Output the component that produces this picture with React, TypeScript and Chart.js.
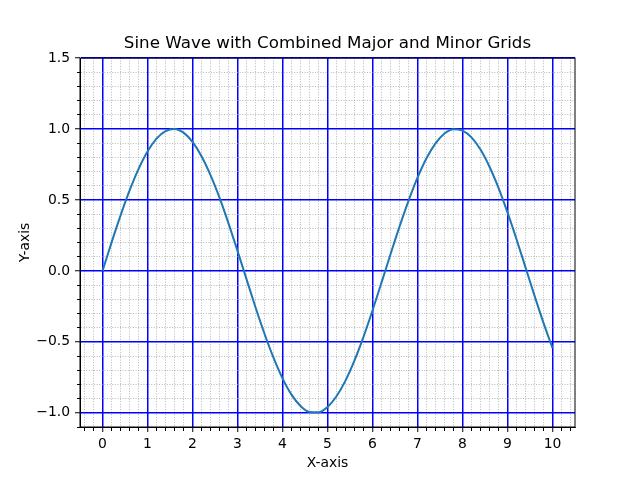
import React, { useEffect, useRef } from "react";
import { Chart, registerables } from "chart.js";

Chart.register(...registerables);

const xValues = [
  0, 0.2, 0.4, 0.6, 0.8, 1, 1.2, 1.4, 1.6, 1.8, 2, 2.2, 2.4, 2.6, 2.8, 3, 3.2, 3.4,
  3.6, 3.8, 4, 4.2, 4.4, 4.6, 4.8, 5, 5.2, 5.4, 5.6, 5.8, 6, 6.2, 6.4, 6.6, 6.8, 7,
  7.2, 7.4, 7.6, 7.8, 8, 8.2, 8.4, 8.6, 8.8, 9, 9.2, 9.4, 9.6, 9.8, 10,
];
const yValues = [
  0, 0.199, 0.389, 0.565, 0.717, 0.841, 0.932, 0.985, 1.0, 0.974, 0.909, 0.808,
  0.675, 0.516, 0.335, 0.141, -0.058, -0.256, -0.443, -0.612, -0.757, -0.872,
  -0.952, -0.994, -0.996, -0.959, -0.883, -0.773, -0.631, -0.465, -0.279, -0.083,
  0.117, 0.312, 0.494, 0.657, 0.794, 0.899, 0.968, 0.999, 0.989, 0.941, 0.855,
  0.734, 0.585, 0.412, 0.223, 0.025, -0.174, -0.366, -0.544,
];

const xMajorTicks = [0, 1, 2, 3, 4, 5, 6, 7, 8, 9, 10];
const yMajorTicks = [-1.0, -0.5, 0.0, 0.5, 1.0, 1.5];

const X_MIN = -0.5;
const X_MAX = 10.5;
const Y_MIN = -1.1;
const Y_MAX = 1.5;
const X_MINOR_STEP = 0.2;
const Y_MINOR_STEP = 0.1;

const FONT = "'DejaVu Sans', sans-serif";
const MAJOR_COLOR = "#0000ff";
const MINOR_COLOR = "#999999";

const minorTicks = (min: number, max: number, step: number) => {
  const out: { value: number }[] = [];
  const first = Math.ceil(min / step - 1e-9);
  const last = Math.floor(max / step + 1e-9);
  for (let i = first; i <= last; i++) {
    out.push({ value: Math.round(i * step * 1000) / 1000 });
  }
  return out;
};

const isMajor = (list: number[], v: number) =>
  list.some((m) => Math.abs(m - v) < 1e-6);

const fmt = (v: number, digits: number) => v.toFixed(digits).replace("-", "\u2212");

// frame around the plot area, like the matplotlib spines
const framePlugin = {
  id: "frame",
  afterDatasetsDraw(chart: Chart) {
    const { ctx, chartArea } = chart;
    ctx.save();
    ctx.strokeStyle = "#000";
    ctx.lineWidth = 1;
    ctx.strokeRect(
      chartArea.left,
      chartArea.top,
      chartArea.right - chartArea.left,
      chartArea.bottom - chartArea.top
    );
    ctx.restore();
  },
};

const SineChart: React.FC = () => {
  const canvasRef = useRef<HTMLCanvasElement | null>(null);
  const chartRef = useRef<Chart | null>(null);

  useEffect(() => {
    if (!canvasRef.current) return;
    if (chartRef.current) chartRef.current.destroy();

    chartRef.current = new Chart(canvasRef.current, {
      type: "line",
      data: {
        datasets: [
          {
            data: xValues.map((x, i) => ({ x, y: yValues[i] })),
            borderColor: "#1f77b4",
            borderWidth: 2,
            pointRadius: 0,
            fill: false,
            cubicInterpolationMode: "monotone",
          },
        ],
      },
      options: {
        animation: false,
        responsive: false,
        maintainAspectRatio: false,
        layout: { padding: { left: 15, right: 0, top: 0, bottom: 0 } },
        plugins: {
          legend: { display: false },
          tooltip: { enabled: false },
          title: {
            display: true,
            text: "Sine Wave with Combined Major and Minor Grids",
            color: "#000",
            font: { family: FONT, size: 16.7, weight: "normal" },
            padding: { top: 34, bottom: 4 },
          },
        },
        scales: {
          x: {
            type: "linear",
            position: "bottom",
            min: X_MIN,
            max: X_MAX,
            afterBuildTicks: (scale: any) => {
              scale.ticks = minorTicks(X_MIN, X_MAX, X_MINOR_STEP);
            },
            afterFit: (scale: any) => {
              scale.height = 53;
            },
            ticks: {
              autoSkip: false,
              maxRotation: 0,
              padding: 4,
              color: "#000",
              font: { family: FONT, size: 13.9 },
              callback: (v: any) =>
                isMajor(xMajorTicks, Number(v)) ? String(Math.round(Number(v))) : "",
            },
            grid: {
              color: (ctx: any) =>
                ctx.tick && isMajor(xMajorTicks, ctx.tick.value) ? MAJOR_COLOR : MINOR_COLOR,
              lineWidth: (ctx: any) =>
                ctx.tick && isMajor(xMajorTicks, ctx.tick.value) ? 1.5 : 0.7,
              tickLength: 5,
              tickColor: "#000",
              tickWidth: 1,
              tickBorderDash: (ctx: any) =>
                ctx.tick && isMajor(xMajorTicks, ctx.tick.value) ? [] : [3, 10],
            },
            border: {
              display: true,
              color: "#000",
              width: 1,
              dash: (ctx: any) =>
                ctx.tick && !isMajor(xMajorTicks, ctx.tick.value) ? [1, 1.6] : [],
            },
            title: {
              display: true,
              text: "X-axis",
              color: "#000",
              font: { family: FONT, size: 13.9 },
              padding: { top: 4, bottom: 8 },
            },
          },
          y: {
            type: "linear",
            position: "left",
            min: Y_MIN,
            max: Y_MAX,
            afterBuildTicks: (scale: any) => {
              scale.ticks = minorTicks(Y_MIN, Y_MAX, Y_MINOR_STEP);
            },
            afterFit: (scale: any) => {
              scale.width = 65;
            },
            ticks: {
              autoSkip: false,
              padding: 5,
              color: "#000",
              font: { family: FONT, size: 13.9 },
              callback: (v: any) =>
                isMajor(yMajorTicks, Number(v)) ? fmt(Number(v), 1) : "",
            },
            grid: {
              color: (ctx: any) =>
                ctx.tick && isMajor(yMajorTicks, ctx.tick.value) ? MAJOR_COLOR : MINOR_COLOR,
              lineWidth: (ctx: any) =>
                ctx.tick && isMajor(yMajorTicks, ctx.tick.value) ? 1.5 : 0.7,
              tickLength: 5,
              tickColor: "#000",
              tickWidth: 1,
              tickBorderDash: (ctx: any) =>
                ctx.tick && isMajor(yMajorTicks, ctx.tick.value) ? [] : [0, 2, 3, 10],
            },
            border: {
              display: true,
              color: "#000",
              width: 1,
              dash: (ctx: any) =>
                ctx.tick && !isMajor(yMajorTicks, ctx.tick.value) ? [1, 1.6] : [],
            },
            title: {
              display: true,
              text: "Y-axis",
              color: "#000",
              font: { family: FONT, size: 13.9 },
              padding: { top: 2, bottom: 0 },
            },
          },
          yRight: {
            type: "linear",
            position: "right",
            min: Y_MIN,
            max: Y_MAX,
            afterFit: (scale: any) => {
              scale.width = 65;
            },
            ticks: { display: false },
            grid: { drawOnChartArea: false, drawTicks: false },
            border: { display: false },
          },
        },
      },
      plugins: [framePlugin],
    });

    return () => {
      if (chartRef.current) {
        chartRef.current.destroy();
        chartRef.current = null;
      }
    };
  }, []);

  return (
    <div style={{ position: "absolute", left: 0, top: 0, width: 640, height: 480, background: "#fff" }}>
      <canvas ref={canvasRef} width={640} height={480} style={{ width: 640, height: 480 }} />
    </div>
  );
};

export default function App() {
  return <SineChart />;
}
